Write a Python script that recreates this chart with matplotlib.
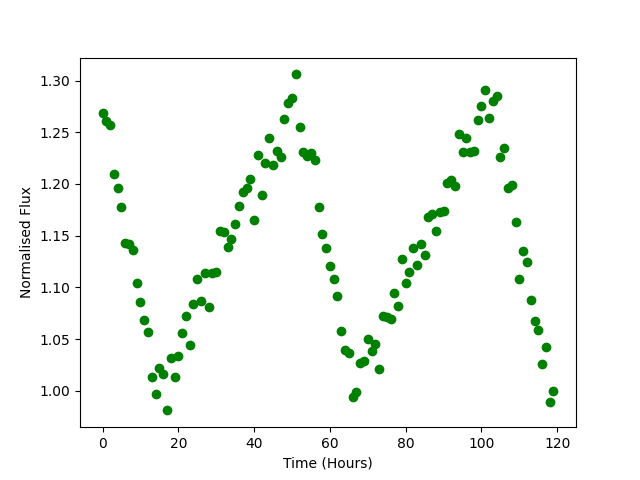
import matplotlib
matplotlib.use("Agg")
import matplotlib.pyplot as plt

time_hours = list(range(120))
flux = [
    1.269, 1.261, 1.257, 1.210, 1.196, 1.178, 1.143, 1.142, 1.136, 1.104,
    1.086, 1.068, 1.057, 1.013, 0.997, 1.022, 1.016, 0.981, 1.032, 1.013,
    1.034, 1.056, 1.072, 1.044, 1.084, 1.108, 1.087, 1.114, 1.081, 1.114,
    1.115, 1.155, 1.154, 1.139, 1.147, 1.161, 1.179, 1.192, 1.196, 1.205,
    1.165, 1.228, 1.189, 1.220, 1.244, 1.218, 1.232, 1.226, 1.263, 1.278,
    1.283, 1.306, 1.255, 1.231, 1.227, 1.230, 1.223, 1.178, 1.152, 1.138,
    1.121, 1.108, 1.092, 1.058, 1.039, 1.037, 0.994, 0.999, 1.027, 1.029,
    1.050, 1.038, 1.045, 1.021, 1.072, 1.071, 1.069, 1.095, 1.082, 1.127,
    1.104, 1.115, 1.138, 1.122, 1.142, 1.131, 1.168, 1.171, 1.155, 1.173,
    1.174, 1.201, 1.204, 1.198, 1.248, 1.231, 1.244, 1.231, 1.232, 1.262,
    1.275, 1.291, 1.264, 1.280, 1.285, 1.226, 1.235, 1.196, 1.199, 1.163,
    1.108, 1.135, 1.125, 1.088, 1.067, 1.059, 1.026, 1.042, 0.989, 1.000,
]

fig, ax = plt.subplots(figsize=(6.4, 4.8), dpi=100)
ax.plot(time_hours, flux, 'go')
ax.set_xlabel("Time (Hours)")
ax.set_ylabel("Normalised Flux")
fig.savefig("out.png", dpi=100)
